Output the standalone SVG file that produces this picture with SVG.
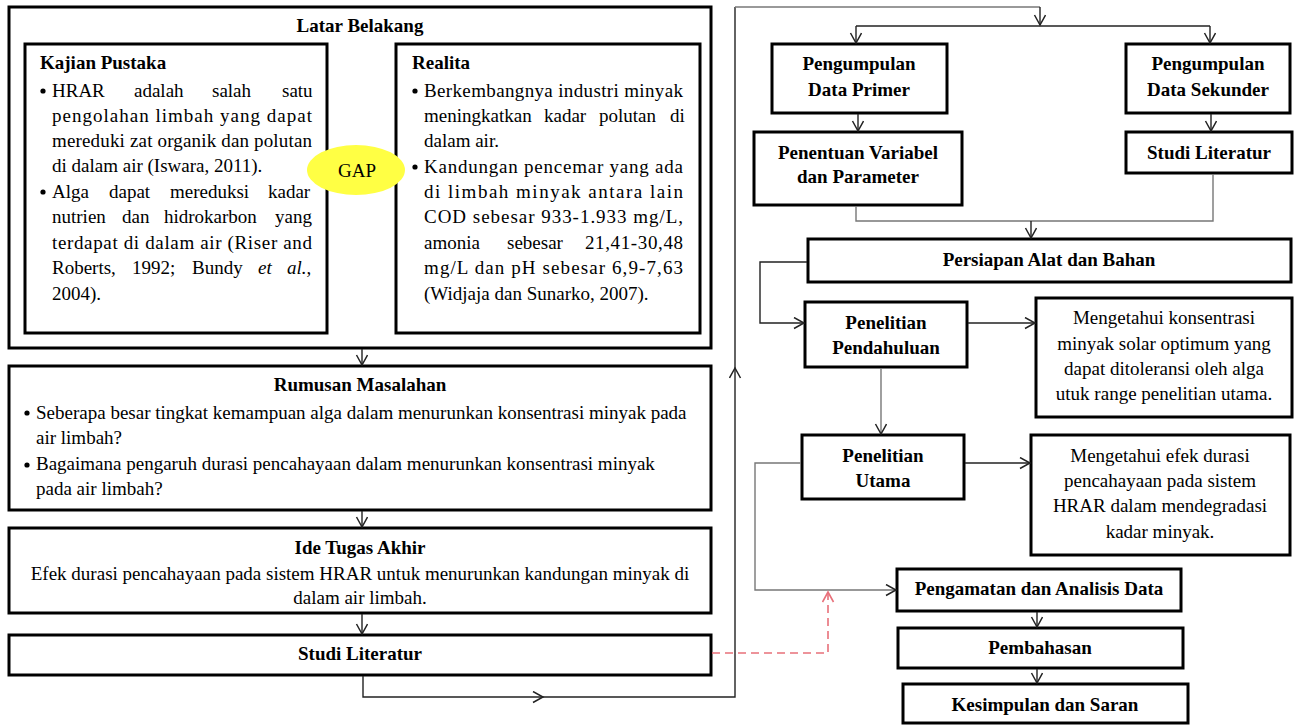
<svg xmlns="http://www.w3.org/2000/svg" width="1294" height="725" viewBox="0 0 1294 725" font-family="'Liberation Serif', 'Times New Roman', 'DejaVu Serif', serif">
<defs>
<style>
text{font-family:'Liberation Serif','Times New Roman','DejaVu Serif',serif;font-size:19px;fill:#000}
.b{font-weight:bold}
.m{text-anchor:middle}
.box{fill:#fff;stroke:#000;stroke-width:3}
.ln{fill:none;stroke:#222;stroke-width:1.4}
.gr{fill:none;stroke:#777;stroke-width:1.4}
.rd{fill:none;stroke:#e8707a;stroke-width:1.6;stroke-dasharray:8,5}
.bul{fill:#000}
</style>
<marker id="a" markerWidth="14" markerHeight="14" refX="11" refY="6" orient="auto" markerUnits="userSpaceOnUse">
<path d="M1,0.5 L11,6 L1,11.5" fill="none" stroke="#222" stroke-width="1.5"/>
</marker>
<marker id="ar" markerWidth="14" markerHeight="14" refX="11" refY="6" orient="auto" markerUnits="userSpaceOnUse">
<path d="M1,0.5 L11,6 L1,11.5" fill="none" stroke="#e8707a" stroke-width="1.6"/>
</marker>
</defs>

<g id="latar-belakang">
<rect class="box" x="9" y="7" width="702" height="341"/>
<text class="b m" x="360" y="32">Latar Belakang</text>
</g>

<g id="kajian-pustaka">
<rect class="box" x="25" y="44" width="302" height="289"/>
<text class="b" x="40" y="69">Kajian Pustaka</text>
<circle class="bul" cx="43" cy="91" r="2.6"/>
<text y="97"><tspan x="52">HRAR</tspan><tspan x="134">adalah</tspan><tspan x="212">salah</tspan><tspan x="282">satu</tspan></text>
<text x="52" y="122" textLength="260" lengthAdjust="spacing">pengolahan limbah yang dapat</text>
<text x="52" y="147" textLength="260" lengthAdjust="spacing">mereduki zat organik dan polutan</text>
<text x="52" y="172">di dalam air (Iswara, 2011).</text>
<circle class="bul" cx="43" cy="192" r="2.6"/>
<text y="198"><tspan x="52">Alga</tspan><tspan x="109">dapat</tspan><tspan x="170">mereduksi</tspan><tspan x="268">kadar</tspan></text>
<text y="223"><tspan x="52">nutrien</tspan><tspan x="122">dan</tspan><tspan x="164">hidrokarbon</tspan><tspan x="275">yang</tspan></text>
<text x="52" y="249" textLength="260" lengthAdjust="spacing">terdapat di dalam air (Riser and</text>
<text y="274"><tspan x="52">Roberts,</tspan><tspan x="132">1992;</tspan><tspan x="192">Bundy</tspan><tspan x="258" font-style="italic">et</tspan><tspan x="287" font-style="italic">al.</tspan><tspan>,</tspan></text>
<text x="52" y="300">2004).</text>
</g>

<g id="realita">
<rect class="box" x="396" y="44" width="304" height="289"/>
<text class="b" x="412" y="69">Realita</text>
<circle class="bul" cx="415" cy="91" r="2.6"/>
<text x="424" y="97" textLength="259" lengthAdjust="spacing">Berkembangnya industri minyak</text>
<text y="122"><tspan x="424">meningkatkan</tspan><tspan x="544">kadar</tspan><tspan x="599">polutan</tspan><tspan x="670">di</tspan></text>
<text x="424" y="147">dalam air.</text>
<circle class="bul" cx="415" cy="167" r="2.6"/>
<text x="424" y="173" textLength="259" lengthAdjust="spacing">Kandungan pencemar yang ada</text>
<text x="424" y="198" textLength="259" lengthAdjust="spacing">di limbah minyak antara lain</text>
<text x="424" y="223" textLength="259" lengthAdjust="spacing">COD sebesar 933-1.933 mg/L,</text>
<text y="249"><tspan x="424">amonia</tspan><tspan x="507">sebesar</tspan><tspan x="585" textLength="98" lengthAdjust="spacing">21,41-30,48</tspan></text>
<text x="424" y="274" textLength="259" lengthAdjust="spacing">mg/L dan pH sebesar 6,9-7,63</text>
<text x="424" y="300">(Widjaja dan Sunarko, 2007).</text>
</g>

<g id="gap">
<ellipse cx="356" cy="170" rx="49" ry="25" fill="#ffff44"/>
<text class="m" x="357" y="177">GAP</text>
</g>

<g id="rumusan-masalah">
<rect class="box" x="9" y="366" width="702" height="144"/>
<text class="b m" x="360" y="391">Rumusan Masalahan</text>
<circle class="bul" cx="27" cy="413" r="2.6"/>
<text x="36" y="419">Seberapa besar tingkat kemampuan alga dalam menurunkan konsentrasi minyak pada</text>
<text x="36" y="444">air limbah?</text>
<circle class="bul" cx="27" cy="465" r="2.6"/>
<text x="36" y="470">Bagaimana pengaruh durasi pencahayaan dalam menurunkan konsentrasi minyak</text>
<text x="36" y="495">pada air limbah?</text>
</g>

<g id="ide-tugas-akhir">
<rect class="box" x="9" y="528" width="702" height="85"/>
<text class="b m" x="360" y="554">Ide Tugas Akhir</text>
<text class="m" x="360" y="580">Efek durasi pencahayaan pada sistem HRAR untuk menurunkan kandungan minyak di</text>
<text class="m" x="360" y="604">dalam air limbah.</text>
</g>

<g id="studi-literatur-left">
<rect class="box" x="9" y="635" width="702" height="40"/>
<text class="b m" x="360" y="660">Studi Literatur</text>
</g>

<g id="data-primer">
<rect class="box" x="772" y="44" width="175" height="69"/>
<text class="b m" x="859" y="70">Pengumpulan</text>
<text class="b m" x="859" y="96">Data Primer</text>
</g>

<g id="data-sekunder">
<rect class="box" x="1126" y="44" width="164" height="69"/>
<text class="b m" x="1208" y="70">Pengumpulan</text>
<text class="b m" x="1208" y="96">Data Sekunder</text>
</g>

<g id="penentuan-variabel">
<rect class="box" x="754" y="132" width="208" height="73"/>
<text class="b m" x="858" y="159">Penentuan Variabel</text>
<text class="b m" x="858" y="183">dan Parameter</text>
</g>

<g id="studi-literatur-right">
<rect class="box" x="1126" y="132" width="166" height="41"/>
<text class="b m" x="1209" y="159">Studi Literatur</text>
</g>

<g id="persiapan">
<rect class="box" x="808" y="239" width="483" height="43"/>
<text class="b m" x="1049" y="266">Persiapan Alat dan Bahan</text>
</g>

<g id="penelitian-pendahuluan">
<rect class="box" x="805" y="302" width="162" height="65"/>
<text class="b m" x="886" y="329">Penelitian</text>
<text class="b m" x="886" y="354">Pendahuluan</text>
</g>

<g id="hasil-pendahuluan">
<rect class="box" x="1036" y="298" width="256" height="119"/>
<text class="m" x="1164" y="324">Mengetahui konsentrasi</text>
<text class="m" x="1164" y="350">minyak solar optimum yang</text>
<text class="m" x="1164" y="375">dapat ditoleransi oleh alga</text>
<text class="m" x="1164" y="400">utuk range penelitian utama.</text>
</g>

<g id="penelitian-utama">
<rect class="box" x="802" y="435" width="162" height="64"/>
<text class="b m" x="883" y="462">Penelitian</text>
<text class="b m" x="883" y="487">Utama</text>
</g>

<g id="hasil-utama">
<rect class="box" x="1031" y="435" width="259" height="120"/>
<text class="m" x="1160" y="462">Mengetahui efek durasi</text>
<text class="m" x="1160" y="487">pencahayaan pada sistem</text>
<text class="m" x="1160" y="512">HRAR dalam mendegradasi</text>
<text class="m" x="1160" y="538">kadar minyak.</text>
</g>

<g id="pengamatan">
<rect class="box" x="897" y="569" width="284" height="42"/>
<text class="b m" x="1039" y="595">Pengamatan dan Analisis Data</text>
</g>

<g id="pembahasan">
<rect class="box" x="898" y="628" width="285" height="40"/>
<text class="b m" x="1040" y="654">Pembahasan</text>
</g>

<g id="kesimpulan">
<rect class="box" x="903" y="684" width="285" height="39"/>
<text class="b m" x="1045" y="711">Kesimpulan dan Saran</text>
</g>

<g id="connectors">
<path class="ln" d="M362,349 V365" marker-end="url(#a)"/>
<path class="ln" d="M362,511 V527" marker-end="url(#a)"/>
<path class="ln" d="M362,614 V634" marker-end="url(#a)"/>
<path class="ln" d="M363,676 V697 H543" marker-end="url(#a)"/>
<path class="ln" d="M543,697 H735 V368" marker-end="url(#a)"/>
<path class="ln" d="M735,368 V7"/>
<path class="gr" d="M735,7 H1040"/>
<path class="ln" d="M1040,7 V25" marker-end="url(#a)"/>
<path class="ln" d="M856,26 H1210"/>
<path class="ln" d="M856,26 V43" marker-end="url(#a)"/>
<path class="ln" d="M1210,26 V43" marker-end="url(#a)"/>
<path class="ln" d="M858,114 V131" marker-end="url(#a)"/>
<path class="ln" d="M1211,114 V131" marker-end="url(#a)"/>
<path class="gr" d="M856,206 V221 H1213 V174"/>
<path class="ln" d="M1031,221 V238" marker-end="url(#a)"/>
<path class="ln" d="M807,262 H760 V323 H804" marker-end="url(#a)"/>
<path class="ln" d="M968,323 H1035" marker-end="url(#a)"/>
<path class="gr" d="M881,368 V434" marker-end="url(#a)"/>
<path class="ln" d="M965,463 H1030" marker-end="url(#a)"/>
<path class="gr" d="M801,463 H755 V590 H896" marker-end="url(#a)"/>
<path class="ln" d="M1037,612 V627" marker-end="url(#a)"/>
<path class="ln" d="M1037,669 V683" marker-end="url(#a)"/>
<path class="rd" d="M712,653 H828 V592" marker-end="url(#ar)"/>
</g>
</svg>
